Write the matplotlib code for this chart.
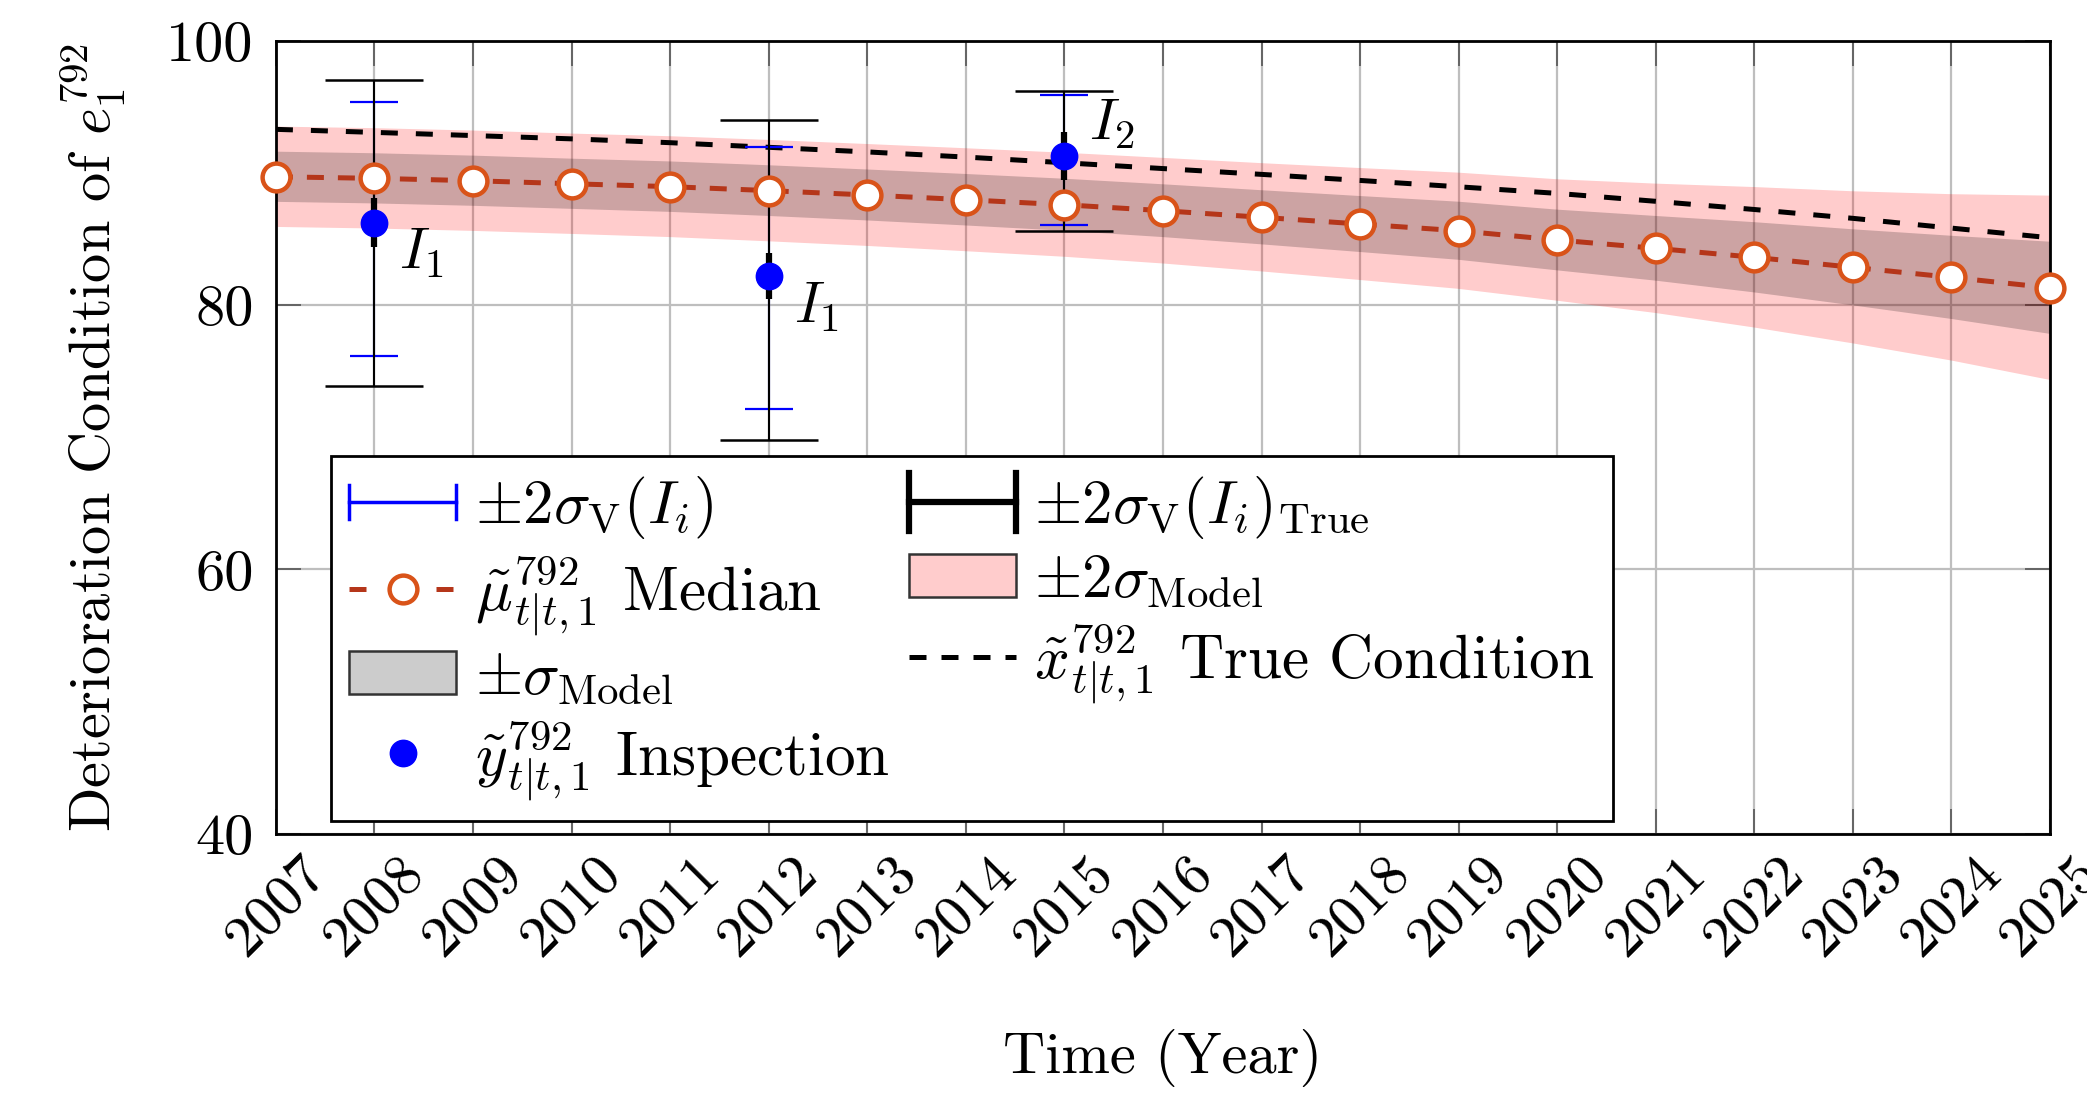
import matplotlib
matplotlib.use('Agg')
import matplotlib.pyplot as plt
import numpy as np
from matplotlib.lines import Line2D
from matplotlib.patches import Patch
from matplotlib.legend_handler import HandlerBase

plt.rcParams['font.family'] = ['cmr10']
plt.rcParams['mathtext.fontset'] = 'cm'
plt.rcParams['axes.unicode_minus'] = False
plt.rcParams['axes.formatter.use_mathtext'] = True

# ---------------- data ----------------
years = list(range(2007, 2026))
median = [89.74, 89.62, 89.44, 89.21, 88.99, 88.69, 88.36, 88.00, 87.62, 87.17,
          86.67, 86.16, 85.65, 84.95, 84.32, 83.64, 82.88, 82.12, 81.33]
sigma_model = [1.90, 1.90, 1.90, 1.90, 1.91, 1.92, 1.93, 1.95, 1.97, 2.00,
               2.05, 2.12, 2.20, 2.30, 2.45, 2.66, 2.88, 3.15, 3.49]
true_cond = [93.33, 93.10, 92.86, 92.61, 92.32, 91.97, 91.62, 91.23, 90.80, 90.36,
             89.92, 89.46, 88.98, 88.48, 87.88, 87.26, 86.59, 85.85, 85.12]

insp_years = [2008, 2012, 2015]
insp_vals = [86.26, 82.22, 91.31]
blue_lo = [76.2, 72.14, 86.06]
blue_hi = [95.4, 91.97, 95.96]
black_lo = [73.9, 69.8, 85.63]
black_hi = [97.07, 94.04, 96.23]
thick_lo = [84.4, 80.45, 89.5]
thick_hi = [88.1, 84.0, 93.15]
insp_labels = [r'$I_1$', r'$I_1$', r'$I_2$']
insp_offsets = [(34, -22), (34, -22), (34, 23)]

ytick_vals = [40, 60, 80, 100]
xtick_labels = [str(y) for y in years]

FS = 42
LFS = 44
ORANGE = '#D95319'
ORANGE_LINE = '#B5361A'

fig = plt.figure(figsize=(20.87, 10.95), dpi=100)
ax = fig.add_axes([0.1322, 0.2388, 0.8501, 0.7235])

yrs = np.array(years)
med = np.array(median)
sig = np.array(sigma_model)

ax.fill_between(yrs, med - 2 * sig, med + 2 * sig, facecolor=(1, 0, 0, 0.2),
                edgecolor='none', zorder=1)
ax.fill_between(yrs, med - sig, med + sig, facecolor=(0, 0, 0, 0.2),
                edgecolor='none', zorder=2)

ax.plot(yrs, true_cond, color='k', lw=3.6, ls=(0, (3.4, 3.6)), zorder=3)

iy = np.array(insp_years)
iv = np.array(insp_vals)
ax.errorbar(iy, iv, yerr=[iv - np.array(blue_lo), np.array(blue_hi) - iv], fmt='none',
            ecolor='blue', elinewidth=1.5, capsize=17, capthick=1.6, zorder=4)
ax.errorbar(iy, iv, yerr=[iv - np.array(black_lo), np.array(black_hi) - iv], fmt='none',
            ecolor='k', elinewidth=1.5, capsize=35, capthick=1.8, zorder=4)
ax.errorbar(iy, iv, yerr=[iv - np.array(thick_lo), np.array(thick_hi) - iv], fmt='none',
            ecolor='k', elinewidth=4.5, capsize=0, zorder=4)

ax.plot(yrs, med, color=ORANGE_LINE, lw=3.6, ls=(0, (3.4, 2.8)), marker='o',
        markersize=20, markerfacecolor='white', markeredgecolor=ORANGE,
        markeredgewidth=3.2, zorder=5, clip_on=False)

ax.plot(iy, iv, 'o', color='blue', markersize=19, zorder=6)

for x, y, lab, off in zip(insp_years, insp_vals, insp_labels, insp_offsets):
    ax.annotate(lab, (x, y), xytext=off, textcoords='offset points',
                ha='center', va='center', fontsize=FS, zorder=7)

ax.set_xlim(2007, 2025)
ax.set_ylim(40, 100)
ax.set_xticks(years)
ax.set_xticklabels(xtick_labels, rotation=45, fontsize=FS)
ax.set_yticks(ytick_vals)
ax.set_yticklabels([str(v) for v in ytick_vals], fontsize=FS)
ax.tick_params(axis='both', direction='in', length=18, width=1.2, color='#555555',
               top=True, right=True)
ax.tick_params(axis='x', pad=10)
ax.tick_params(axis='y', pad=16)
ax.grid(True, color='#BEBEBE', lw=1.6, zorder=0)
ax.set_axisbelow(True)
for s in ax.spines.values():
    s.set_linewidth(2.0)
    s.set_color('k')

ax.set_xlabel('Time (Year)', fontsize=FS)
ax.xaxis.set_label_coords(0.5, -0.283)
ax.xaxis.label.set_va('center')
ax.set_ylabel(r'Deterioration Condition of $e_1^{792}$', fontsize=FS)
ax.yaxis.set_label_coords(-0.103, 0.5)
ax.yaxis.label.set_va('center')


class HandlerCapLine(HandlerBase):
    def __init__(self, color, lw, cap_h):
        super().__init__()
        self.color = color
        self.lw = lw
        self.cap_h = cap_h

    def create_artists(self, legend, orig_handle, xdescent, ydescent, width, height,
                       fontsize, trans):
        y = height / 2 - ydescent
        x0 = -xdescent
        x1 = width - xdescent
        h = self.cap_h / 2
        arts = [Line2D([x0, x1], [y, y], color=self.color, lw=self.lw),
                Line2D([x0, x0], [y - h, y + h], color=self.color, lw=self.lw),
                Line2D([x1, x1], [y - h, y + h], color=self.color, lw=self.lw)]
        for a in arts:
            a.set_transform(trans)
        return arts


h_blue = Line2D([], [], color='blue')
h_black = Line2D([], [], color='k')
h_med = Line2D([], [], color=ORANGE_LINE, lw=3.6, ls=(0, (3.4, 14.0)), marker='o',
               markersize=20, markerfacecolor='white', markeredgecolor=ORANGE,
               markeredgewidth=3.2)
h_gray = Patch(facecolor=(0, 0, 0, 0.2), edgecolor='#333333', lw=1.8)
h_pink = Patch(facecolor=(1, 0, 0, 0.2), edgecolor='#333333', lw=1.8)
h_insp = Line2D([], [], ls='none', marker='o', color='blue', markersize=19)
h_true = Line2D([], [], color='k', lw=3.6, ls=(0, (3.4, 3.0)))

handles = [h_blue, h_med, h_gray, h_insp, h_black, h_pink, h_true]
labels = [r'$\pm 2\sigma_{\mathrm{V}}(I_i)$',
          r'$\tilde{\mu}^{792}_{t|t,1}$ Median',
          r'$\pm\sigma_{\mathrm{Model}}$',
          r'$\tilde{y}^{792}_{t|t,1}$ Inspection',
          r'$\pm 2\sigma_{\mathrm{V}}(I_i)_{\mathrm{True}}$',
          r'$\pm 2\sigma_{\mathrm{Model}}$',
          r'$\tilde{x}^{792}_{t|t,1}$ True Condition']

leg = ax.legend(handles, labels, ncol=2, loc='upper left', bbox_to_anchor=(0.031, 0.4765),
                borderaxespad=0, fontsize=LFS, frameon=True, fancybox=False,
                edgecolor='k', framealpha=1, handlelength=1.75, handletextpad=0.3,
                columnspacing=0.32, labelspacing=0.2, borderpad=0.3,
                handler_map={h_blue: HandlerCapLine('blue', 2.5, 24),
                             h_black: HandlerCapLine('k', 4.5, 42)})
leg.get_frame().set_linewidth(2.0)
leg.set_zorder(10)

fig.savefig('out.png', dpi=100)
